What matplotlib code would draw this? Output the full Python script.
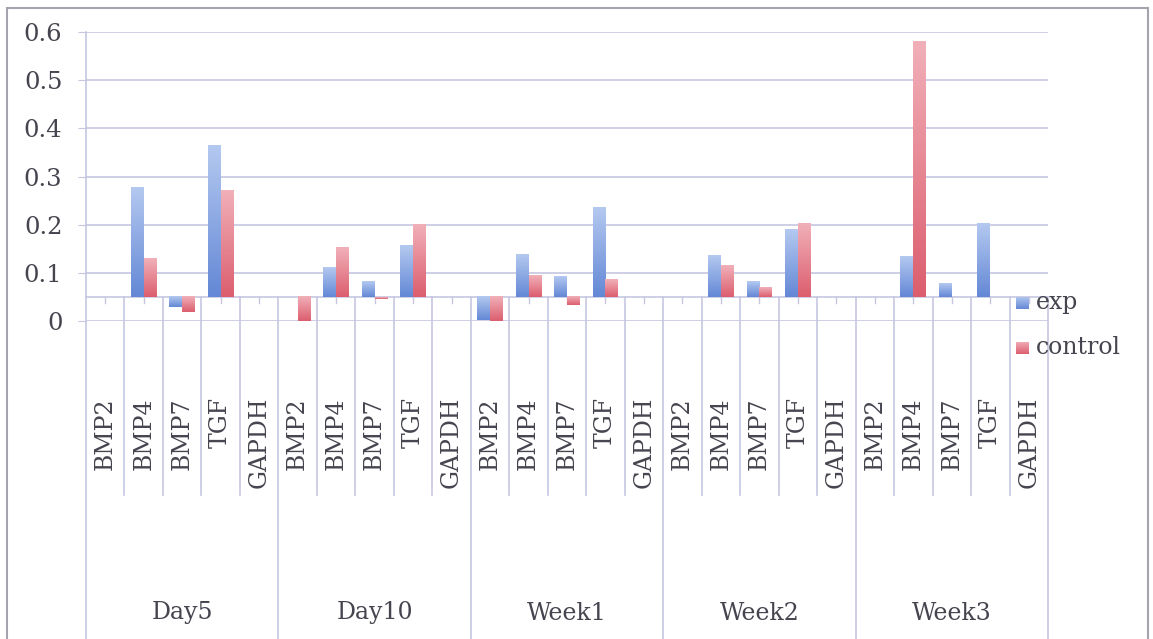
import numpy as np
import matplotlib.pyplot as plt
from matplotlib.colors import LinearSegmentedColormap
from matplotlib.patches import Rectangle
import matplotlib.transforms as mtransforms

# relative expression, grouped by time point
groups = ['Day5', 'Day10', 'Week1', 'Week2', 'Week3']
genes = ['BMP2', 'BMP4', 'BMP7', 'TGF', 'GAPDH']
nan = np.nan
exp_values = [nan, 0.277, 0.029, 0.365, nan,
              nan, 0.111, 0.083, 0.157, nan,
              0.002, 0.139, 0.092, 0.235, nan,
              nan, 0.137, 0.083, 0.190, nan,
              nan, 0.135, 0.078, 0.203, nan]
control_values = [nan, 0.129, 0.018, 0.271, nan,
                  0.0, 0.152, 0.046, 0.200, nan,
                  0.0, 0.095, 0.033, 0.087, nan,
                  nan, 0.115, 0.069, 0.203, nan,
                  nan, 0.580, nan, nan, nan]
y_ticks = [0, 0.1, 0.2, 0.3, 0.4, 0.5, 0.6]
axis_cross = 0.05

W, H = 1153, 639
plt.rcParams['font.family'] = 'DejaVu Serif'
text_color = '#45454f'
grid_color = '#c6c6e0'

fig = plt.figure(figsize=(W / 100, H / 100), dpi=100)
ax = fig.add_axes([86 / W, 1 - 321 / H, (1048 - 86) / W, (321 - 32) / H])

n = len(exp_values)
x = np.arange(n) + 0.5
bw = 1 / 3

cmaps = {
    'exp': LinearSegmentedColormap.from_list('exp', ['#6488d6', '#b4c9f0']),
    'control': LinearSegmentedColormap.from_list('control', ['#dc5e6e', '#f1b0b9']),
}
grad = np.linspace(0, 1, 100).reshape(-1, 1)


def gradient_bars(xpos, values, name):
    vals = np.array(values, dtype=float)
    ok = ~np.isnan(vals)
    bars = ax.bar(xpos[ok], vals[ok] - axis_cross, width=bw, bottom=axis_cross,
                  align='edge', facecolor='none', edgecolor='none', zorder=3)
    for rect in bars:
        x0, y0 = rect.get_x(), rect.get_y()
        x1, y1 = x0 + rect.get_width(), y0 + rect.get_height()
        lo, hi = min(y0, y1), max(y0, y1)
        ax.imshow(grad, extent=[x0, x1, lo, hi], origin='lower', aspect='auto',
                  cmap=cmaps[name], zorder=3, interpolation='bilinear')
    return bars


gradient_bars(x - bw, exp_values, 'exp')
gradient_bars(x, control_values, 'control')

ax.set_xlim(0, n)
ax.set_ylim(0, 0.6)
ax.set_yticks(y_ticks)
ax.set_yticklabels(['0' if t == 0 else f'{t:.1f}' for t in y_ticks])
ax.tick_params(axis='y', length=6, color=grid_color, pad=11,
               labelsize=17.5, labelcolor=text_color)
ax.set_xticks([])
for s in ['top', 'right', 'bottom', 'left']:
    ax.spines[s].set_visible(False)

# gridlines
for t in y_ticks:
    ax.axhline(t, color=grid_color, lw=1.2, zorder=1)

blend = mtransforms.blended_transform_factory(ax.transData, fig.transFigure)

# horizontal category axis crossing at 0.05
ax.axhline(axis_cross, color=grid_color, lw=1.2, zorder=2)
for xc in x:
    ax.plot([xc, xc], [axis_cross, axis_cross - 0.013], color=grid_color, lw=1, zorder=2)

# separators between categories and between groups
for i in range(n + 1):
    if i % 5 == 0:
        y_end = -0.05
    else:
        y_end = 1 - 495 / H
    line = plt.Line2D([i, i], [1 - 297 / H, y_end], transform=blend,
                      color=grid_color, lw=1.2, clip_on=False, zorder=2)
    fig.add_artist(line)
# left axis line through the plot area
fig.add_artist(plt.Line2D([0, 0], [1 - 32 / H, 1 - 297 / H], transform=blend,
                          color=grid_color, lw=1.2, clip_on=False))

# category labels
for i, xc in enumerate(x):
    fig.text(xc, 1 - 397 / H, genes[i % 5], transform=blend, rotation=90,
             ha='center', va='top', fontsize=17, color=text_color)
for g, name in enumerate(groups):
    fig.text(g * 5 + 2.5, 1 - 613 / H, name, transform=blend,
             ha='center', va='center', fontsize=17, color=text_color)

# legend
for k, (label, name) in enumerate([('exp', 'exp'), ('control', 'control')]):
    yc = 303 + k * 45
    sq = fig.add_axes([1016 / W, 1 - (yc + 6.5) / H, 13 / W, 13 / H])
    sq.imshow(grad, origin='lower', aspect='auto', cmap=cmaps[name],
              extent=[0, 1, 0, 1])
    sq.set_axis_off()
    fig.text(1036 / W, 1 - yc / H, label, ha='left', va='center',
             fontsize=17, color=text_color)

# chart area border
fig.add_artist(Rectangle((7 / W, -0.1), (1148 - 7) / W, 1.1 - 8 / H,
                         transform=fig.transFigure, fill=False,
                         edgecolor='#a4a4ae', lw=1.5))

fig.savefig('out.png', dpi=100)
